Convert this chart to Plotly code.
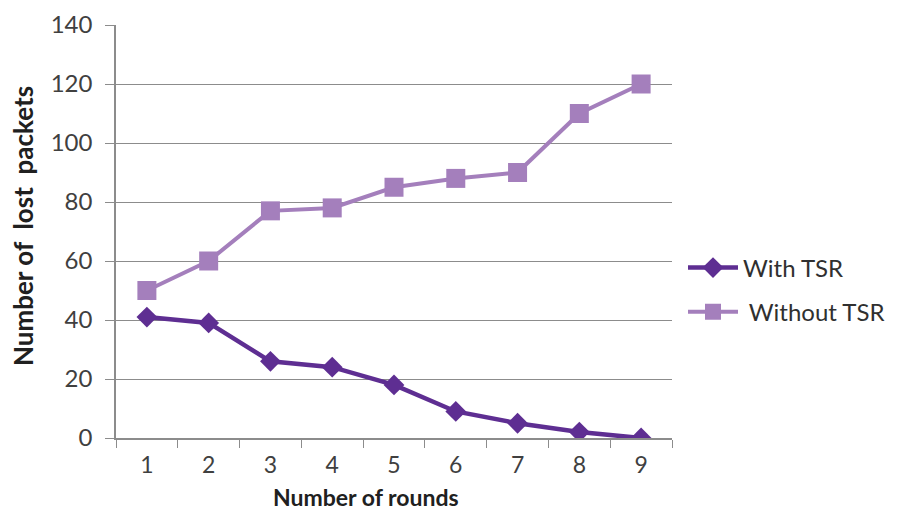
import plotly.graph_objects as go

rounds = ["1", "2", "3", "4", "5", "6", "7", "8", "9"]
with_tsr = [41, 39, 26, 24, 18, 9, 5, 2, 0]
without_tsr = [50, 60, 77, 78, 85, 88, 90, 110, 120]
y_ticks = [0, 20, 40, 60, 80, 100, 120, 140]

FONT = "Lato, 'Open Sans', sans-serif"
# page body has an 8px margin; figure is placed at (8, 8)
OFF = 8
W, H = 882, 513
L, R, T, B = 108, 218, 17, 83
PW, PH = W - L - R, H - T - B

fig = go.Figure()
fig.add_trace(go.Scatter(
    x=rounds, y=with_tsr, name="With TSR", mode="lines+markers",
    line=dict(color="#5E2E92", width=4.5),
    marker=dict(symbol="diamond", size=16, color="#5E2E92"),
    legendgroup="a",
))
fig.add_trace(go.Scatter(
    x=rounds, y=without_tsr, name=" Without TSR", mode="lines+markers",
    line=dict(color="#A47FBC", width=4),
    marker=dict(symbol="square", size=19, color="#A47FBC"),
    legendgroup="b",
))

fig.update_layout(
    width=W, height=H,
    margin=dict(l=L, r=R, t=T, b=B, autoexpand=False),
    paper_bgcolor="white", plot_bgcolor="white",
    font=dict(family=FONT, size=24, color="#404040"),
    legend=dict(xref="container", yref="container",
                x=(683 - OFF) / W, y=1 - (290 - OFF) / H, xanchor="left", yanchor="middle",
                font=dict(size=24, color="#303030"),
                tracegroupgap=10, itemwidth=50),
    xaxis=dict(
        type="category", range=[-0.5, 8.5], tickson="boundaries", ticks="outside", ticklen=8,
        tickcolor="#8c8c8c", showline=True, linecolor="#8c8c8c", linewidth=1.5,
        showgrid=False, tickfont=dict(size=23, color="#404040"),
        automargin=False, ticklabelstandoff=6,
    ),
    yaxis=dict(
        range=[0, 140], tickvals=y_ticks, ticks="outside", ticklen=9,
        tickcolor="#8c8c8c", showline=True, linecolor="#8c8c8c", linewidth=1.5,
        showgrid=True, gridcolor="#8c8c8c", gridwidth=1.2, zeroline=False,
        tickfont=dict(size=24, color="#404040"),
        automargin=False, ticklabelstandoff=8,
    ),
    annotations=[
        dict(text="<b>Number of rounds</b>", xref="paper", yref="paper",
             x=(366 - OFF - L) / PW, y=-(497 - OFF - (T + PH)) / PH, xanchor="center", yanchor="middle",
             showarrow=False, font=dict(size=23, color="#202020")),
        dict(text="<b>Number of  lost  packets</b>", xref="paper", yref="paper",
             x=(23 - OFF - L) / PW, y=1 - (226 - OFF - T) / PH, xanchor="center", yanchor="middle",
             textangle=-90, showarrow=False, font=dict(size=26, color="#202020")),
    ],
)
fig.write_html("out.html")
